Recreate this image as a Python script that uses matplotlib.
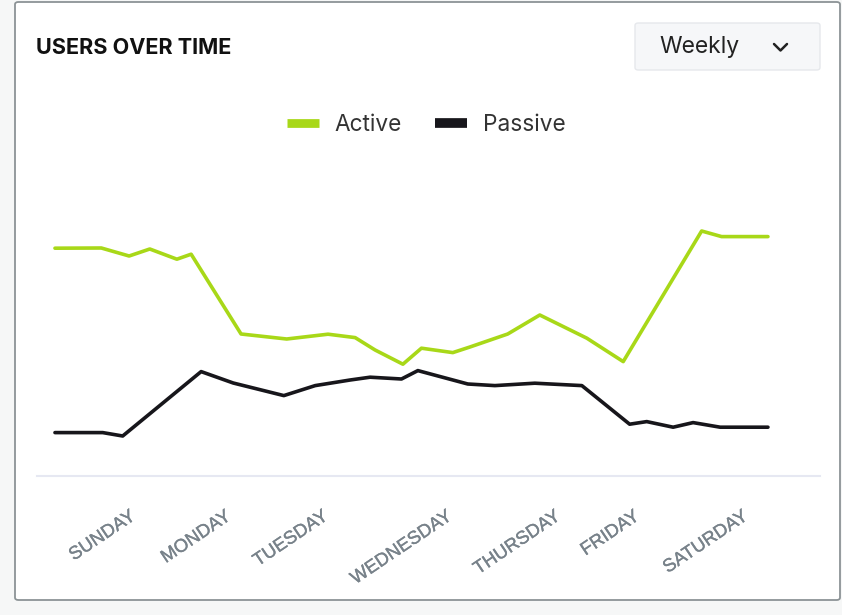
import matplotlib.pyplot as plt
import matplotlib.patheffects as pe
from matplotlib.patches import FancyBboxPatch
from matplotlib.lines import Line2D

plt.rcParams['font.family'] = ['Inter', 'DejaVu Sans']

# time position within the week (0 = start, 100 = end)
active_x = [0, 6.5, 10.4, 13.3, 17.1, 19.1, 26.1, 32.5, 38.3, 42.1, 44.9, 48.8,
            51.4, 55.8, 58.2, 63.5, 68.0, 74.6, 79.7, 90.7, 93.5, 100]
active_y = [113.9, 114, 110, 113.5, 108.4, 110.9, 71, 68.5, 70.9, 69.2, 63, 55.9,
            63.9, 61.7, 64.5, 71, 80.5, 68.9, 57.2, 122.5, 119.7, 119.7]

passive_x = [0, 6.7, 9.5, 20.5, 25.0, 32.1, 36.5, 41.4, 44.2, 48.6, 50.9, 57.9,
             61.7, 67.3, 73.9, 80.6, 83.0, 86.7, 89.5, 93.3, 100]
passive_y = [21.7, 21.7, 20, 52.2, 46.5, 40.2, 45.2, 48, 49.4, 48.5, 52.7, 46,
             45.2, 46.4, 45.2, 25.9, 27.2, 24.4, 26.7, 24.4, 24.4]

day_ticks = [10.4, 23.8, 37.4, 54.8, 70.0, 81.1, 96.3]
day_labels = ['SUNDAY', 'MONDAY', 'TUESDAY', 'WEDNESDAY', 'THURSDAY', 'FRIDAY', 'SATURDAY']

W, H = 842, 615
fig = plt.figure(figsize=(W / 100, H / 100), dpi=100)
fig.patch.set_facecolor('#f6f7f7')

# card
card = FancyBboxPatch((15 / W, (H - 600) / H), 825 / W, 598 / H,
                      boxstyle='round,pad=0,rounding_size=0.004',
                      transform=fig.transFigure, facecolor='white',
                      edgecolor='#8c9396', linewidth=1.3, zorder=-10)
fig.add_artist(card)

fig.text(36 / W, 1 - 48 / H, 'USERS OVER TIME', fontsize=15.6, fontweight='bold',
         color='#111111', va='center', ha='left')

# dropdown
box = FancyBboxPatch((635 / W, 1 - 70 / H), 185 / W, 47 / H,
                     boxstyle='round,pad=0,rounding_size=0.004',
                     transform=fig.transFigure, facecolor='#f6f7f9',
                     edgecolor='#e6e8ec', linewidth=1.0, zorder=-5)
fig.add_artist(box)
fig.text(659 / W, 1 - 47 / H, 'Weekly', fontsize=16.5, color='#222222',
         va='center', ha='left')
fig.add_artist(Line2D([774 / W, 780.5 / W, 787 / W],
                      [1 - 44 / H, 1 - 50.5 / H, 1 - 44 / H],
                      transform=fig.transFigure, color='#222222', lw=1.8,
                      solid_capstyle='round', solid_joinstyle='round'))

ax = fig.add_axes([37 / W, (H - 476) / H, (820 - 37) / W, (476 - 150) / H])
ax.patch.set_alpha(0)
ax.set_xlim(-2.52, 107.3)
ax.set_ylim(0, 163)

ax.plot(active_x, active_y, color='#a8d818', lw=2.6, label='Active',
        solid_joinstyle='round', solid_capstyle='round')
ax.plot(passive_x, passive_y, color='#17161b', lw=2.6, label='Passive',
        solid_joinstyle='round', solid_capstyle='round')

for s in ['top', 'right', 'left']:
    ax.spines[s].set_visible(False)
ax.spines['bottom'].set_color('#e6e8f2')
ax.spines['bottom'].set_linewidth(1.5)
ax.set_yticks([])
ax.set_xticks(day_ticks)
labels = ax.set_xticklabels(day_labels, rotation=34, ha='right', va='top',
                            rotation_mode='anchor', fontsize=13.3,
                            family=['Liberation Sans', 'DejaVu Sans'], color='#78828a')
for t in labels:
    t.set_path_effects([pe.withStroke(linewidth=0.25, foreground='#78828a')])
ax.tick_params(axis='x', length=0, pad=23)

fig.legend(handles=[Line2D([], [], color='#a8d818', lw=6.3, solid_capstyle='butt'),
                    Line2D([], [], color='#17161b', lw=7, solid_capstyle='butt')],
           labels=['Active', 'Passive'], loc='center',
           bbox_to_anchor=(426 / W, 1 - 125 / H), ncol=2, frameon=False,
           fontsize=16.3, handlelength=1.42, columnspacing=1.46, handletextpad=0.7,
           labelcolor='#333333')

fig.savefig('out.png', dpi=100, facecolor=fig.get_facecolor())
